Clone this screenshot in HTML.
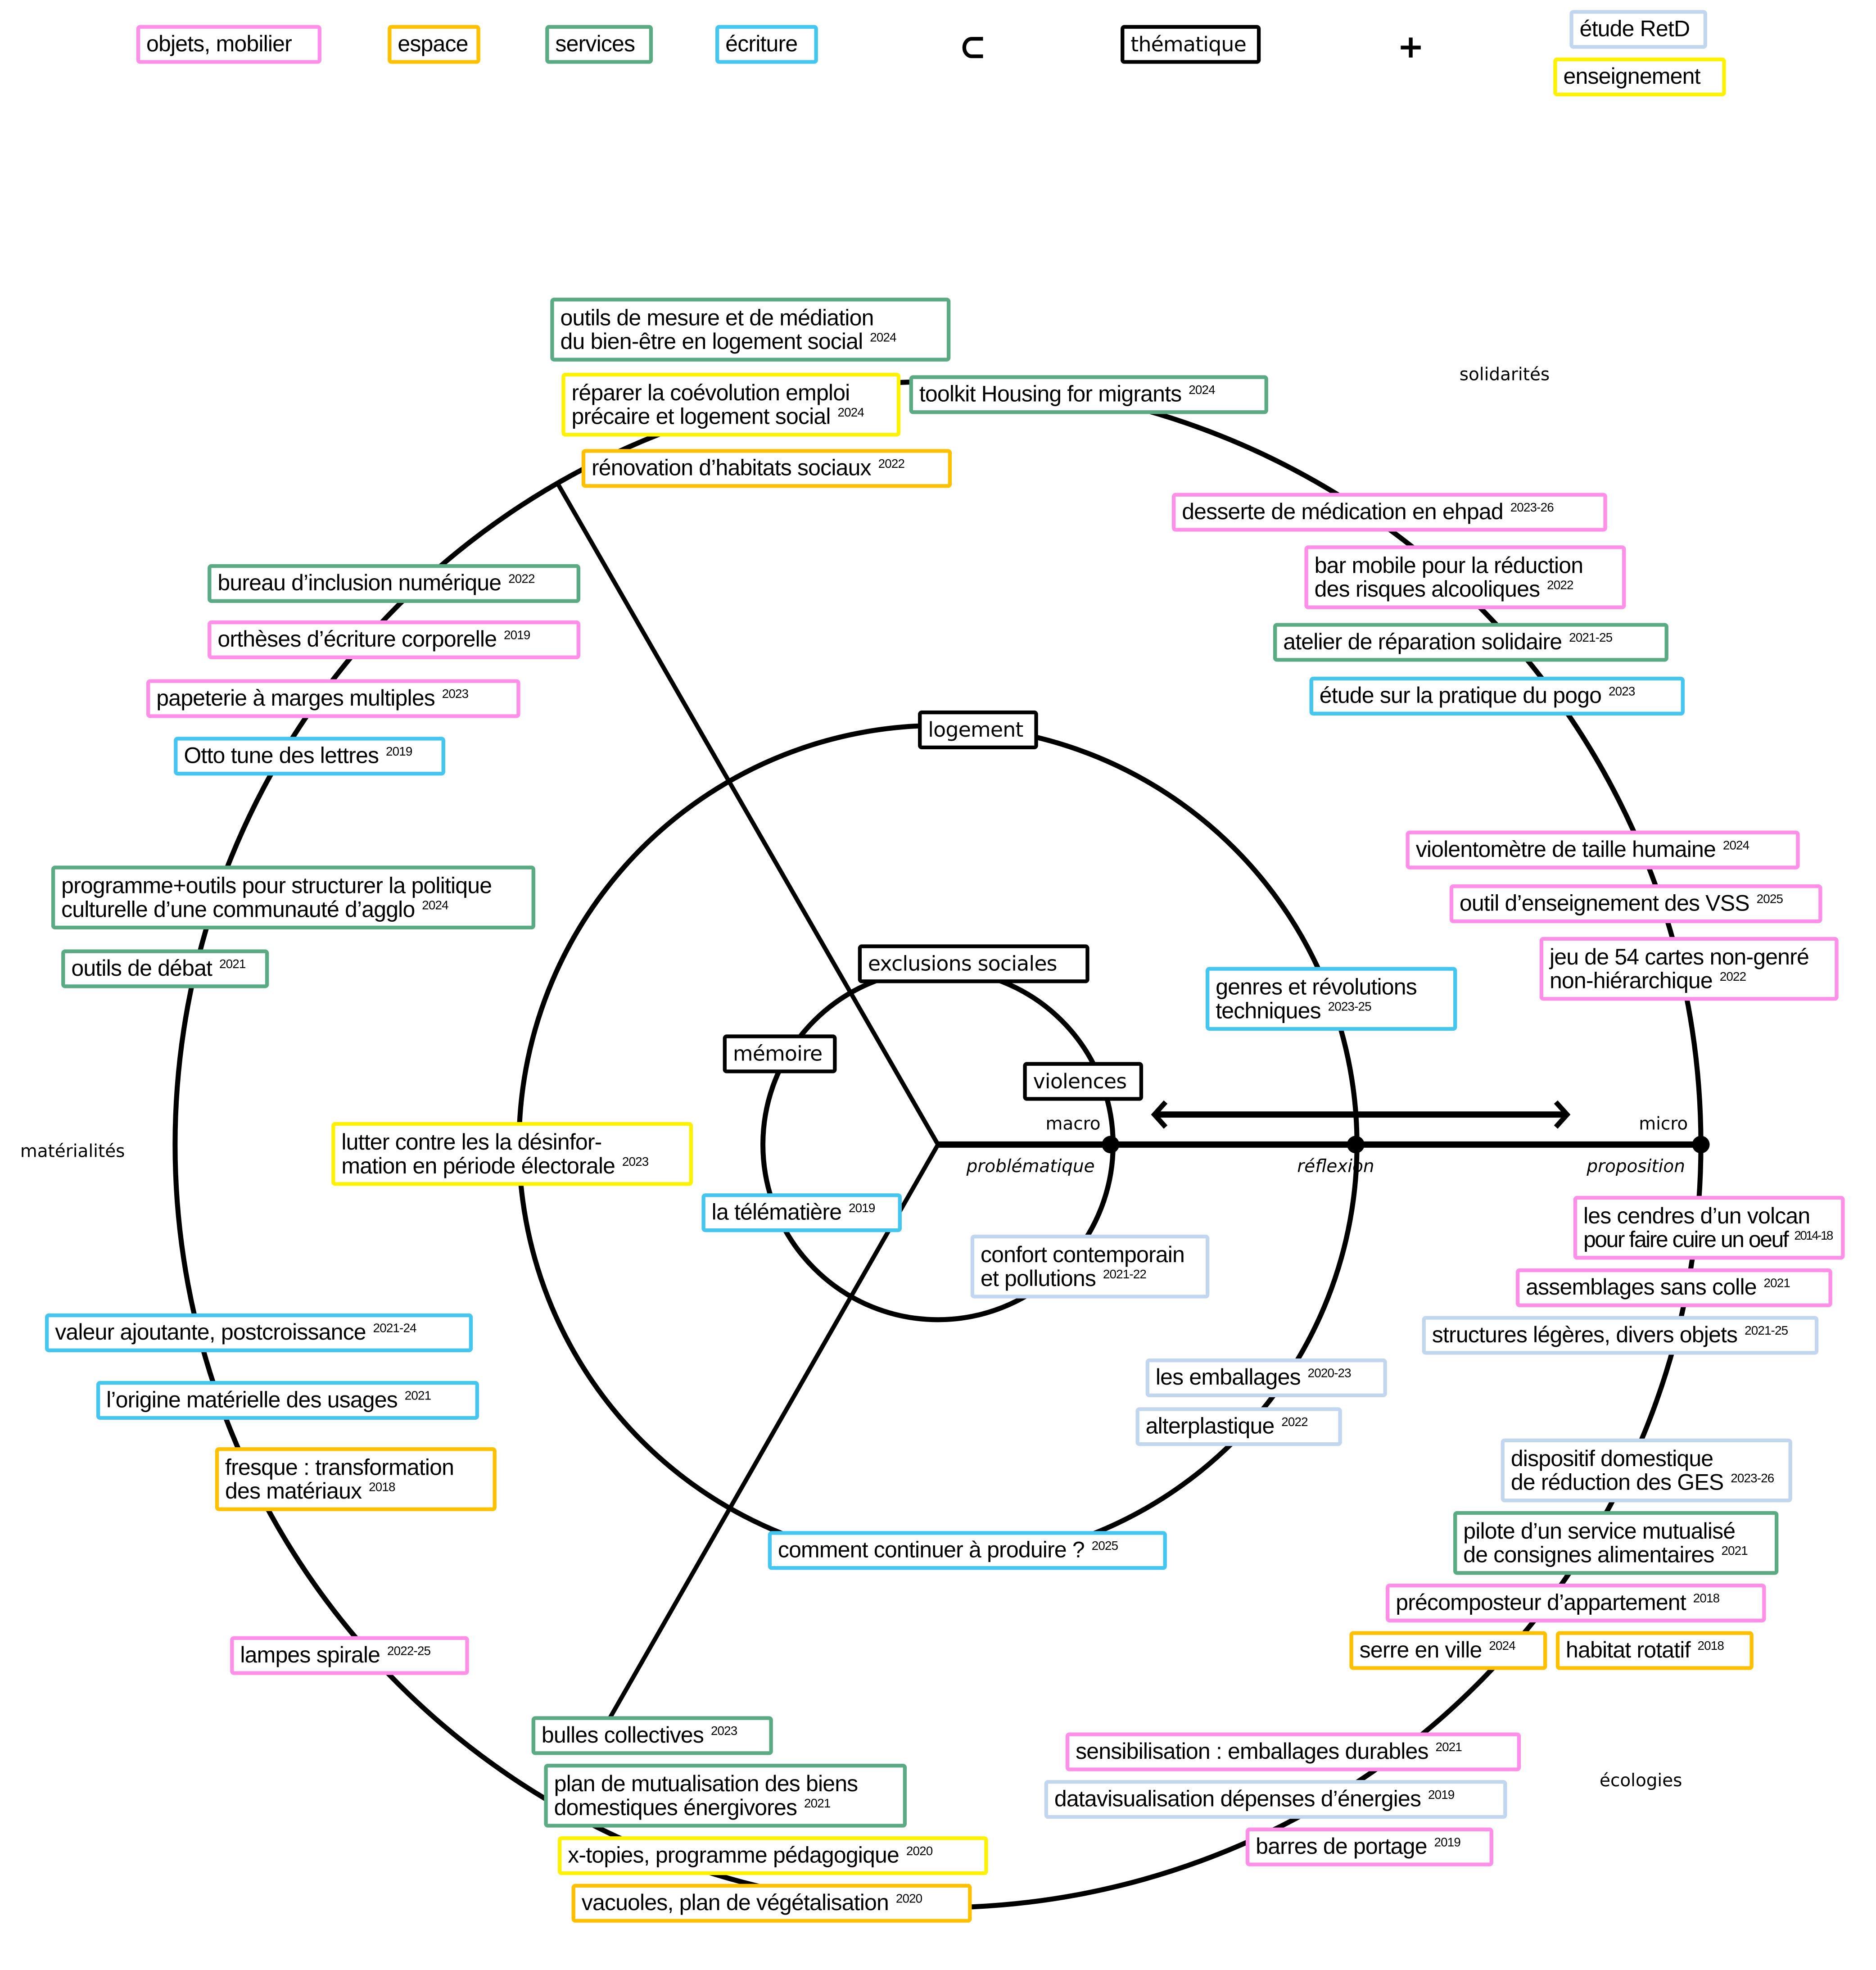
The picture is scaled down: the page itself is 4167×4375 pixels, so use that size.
<!DOCTYPE html>
<html><head><meta charset="utf-8"><style>
html,body{margin:0;padding:0;background:#fff}
#w{width:4167px;height:4375px;overflow:hidden;position:relative;background:#fff}
#s{position:absolute;left:0;top:0;width:1500px;height:1575px;transform:scale(2.778);transform-origin:0 0}
.b{position:absolute;box-sizing:border-box;border:3.2px solid;border-radius:3px;background:#fff;font-family:"Liberation Sans",sans-serif;font-size:18px;line-height:19px;padding:2px 5px;white-space:nowrap;color:#000;display:flex;flex-direction:column;justify-content:center;letter-spacing:-0.3px}
.b sup{font-size:10px;vertical-align:6px;line-height:0;margin-left:1px}
.p{border-color:#ff8fe9}.o{border-color:#ffc000}.g{border-color:#5aaa84}.c{border-color:#44c6f0}.l{border-color:#c3d6ef}.y{border-color:#fff200}.k{border-color:#000;font-family:"DejaVu Sans",sans-serif;font-size:16.5px}
.t{position:absolute;font-family:"DejaVu Sans",sans-serif;font-size:14px;color:#000;transform:translateX(-50%);white-space:nowrap}
.i{font-style:italic}
</style></head><body><div id="w"><div id="s">
<svg width="1500" height="1575" style="position:absolute;left:0;top:0" fill="none" stroke="#000">
<circle cx="750" cy="915" r="140" stroke-width="4"/>
<circle cx="750" cy="915" r="335" stroke-width="4"/>
<circle cx="750" cy="915" r="610" stroke-width="4"/>
<polyline points="445,385 750,915 485,1378" stroke-width="3.5"/>
<line x1="750" y1="915" x2="1360" y2="915" stroke-width="5"/>
<circle cx="888" cy="915" r="7" fill="#000" stroke="none"/>
<circle cx="1084" cy="915" r="7" fill="#000" stroke="none"/>
<circle cx="1360" cy="915" r="7" fill="#000" stroke="none"/>
<line x1="924" y1="891" x2="1252" y2="891" stroke-width="5"/>
<polyline points="932,881 923,891 932,901" stroke-width="4"/>
<polyline points="1244,881 1253,891 1244,901" stroke-width="4"/>
<path d="M786 31 h-9 a6 7 0 0 0 0 14 h9" stroke-width="3"/>
<path d="M1128 30 v16 M1120 38 h16" stroke-width="3"/>
</svg>

<div class="b p" style="left:109px;top:20px;width:148px;height:31px">objets, mobilier</div>
<div class="b o" style="left:310px;top:20px;width:74px;height:31px">espace</div>
<div class="b g" style="left:436px;top:20px;width:86px;height:31px">services</div>
<div class="b c" style="left:572px;top:20px;width:82px;height:31px">écriture</div>
<div class="b k" style="left:896px;top:20px;width:112px;height:31px">thématique</div>
<div class="b l" style="left:1255px;top:8px;width:110px;height:31px">étude RetD</div>
<div class="b y" style="left:1242px;top:46px;width:138px;height:31px">enseignement</div>

<div class="b g" style="left:440px;top:238px;width:320px;height:51px">outils de mesure et de médiation<span>du bien-être en logement social <sup>2024</sup></span></div>
<div class="b y" style="left:449px;top:298px;width:271px;height:51px">réparer la coévolution emploi<span>précaire et logement social <sup>2024</sup></span></div>
<div class="b g" style="left:727px;top:300px;width:287px;height:31px"><span>toolkit Housing for migrants <sup>2024</sup></span></div>
<div class="b o" style="left:465px;top:359px;width:296px;height:31px"><span>rénovation d’habitats sociaux <sup>2022</sup></span></div>
<div class="b g" style="left:166px;top:451px;width:298px;height:31px"><span>bureau d’inclusion numérique <sup>2022</sup></span></div>
<div class="b p" style="left:166px;top:496px;width:298px;height:31px"><span>orthèses d’écriture corporelle <sup>2019</sup></span></div>
<div class="b p" style="left:117px;top:543px;width:299px;height:31px"><span>papeterie à marges multiples <sup>2023</sup></span></div>
<div class="b c" style="left:139px;top:589px;width:217px;height:31px"><span>Otto tune des lettres <sup>2019</sup></span></div>
<div class="b g" style="left:41px;top:692px;width:387px;height:51px">programme+outils pour structurer la politique<span>culturelle d’une communauté d’agglo <sup>2024</sup></span></div>
<div class="b g" style="left:49px;top:759px;width:166px;height:31px"><span>outils de débat <sup>2021</sup></span></div>
<div class="b y" style="left:265px;top:897px;width:289px;height:51px">lutter contre les la désinfor-<span>mation en période électorale <sup>2023</sup></span></div>
<div class="b c" style="left:561px;top:954px;width:160px;height:31px"><span>la télématière <sup>2019</sup></span></div>
<div class="b c" style="left:36px;top:1050px;width:342px;height:31px"><span>valeur ajoutante, postcroissance <sup>2021-24</sup></span></div>
<div class="b c" style="left:77px;top:1104px;width:306px;height:31px"><span>l’origine matérielle des usages <sup>2021</sup></span></div>
<div class="b o" style="left:172px;top:1157px;width:225px;height:51px">fresque : transformation<span>des matériaux <sup>2018</sup></span></div>
<div class="b p" style="left:184px;top:1308px;width:191px;height:31px"><span>lampes spirale <sup>2022-25</sup></span></div>
<div class="b g" style="left:425px;top:1372px;width:193px;height:31px"><span>bulles collectives <sup>2023</sup></span></div>
<div class="b g" style="left:435px;top:1410px;width:290px;height:51px">plan de mutualisation des biens<span>domestiques énergivores <sup>2021</sup></span></div>
<div class="b y" style="left:446px;top:1468px;width:344px;height:31px"><span>x-topies, programme pédagogique <sup>2020</sup></span></div>
<div class="b o" style="left:457px;top:1506px;width:320px;height:31px"><span>vacuoles, plan de végétalisation <sup>2020</sup></span></div>
<div class="b c" style="left:614px;top:1224px;width:319px;height:31px"><span>comment continuer à produire ? <sup>2025</sup></span></div>
<div class="b l" style="left:776px;top:987px;width:191px;height:51px">confort contemporain<span>et pollutions <sup>2021-22</sup></span></div>
<div class="b l" style="left:916px;top:1086px;width:193px;height:31px"><span>les emballages <sup>2020-23</sup></span></div>
<div class="b l" style="left:908px;top:1125px;width:165px;height:31px"><span>alterplastique <sup>2022</sup></span></div>
<div class="b c" style="left:964px;top:773px;width:201px;height:51px">genres et révolutions<span>techniques <sup>2023-25</sup></span></div>
<div class="b p" style="left:937px;top:394px;width:348px;height:31px"><span>desserte de médication en ehpad <sup>2023-26</sup></span></div>
<div class="b p" style="left:1043px;top:436px;width:257px;height:51px">bar mobile pour la réduction<span>des risques alcooliques <sup>2022</sup></span></div>
<div class="b g" style="left:1018px;top:498px;width:316px;height:31px"><span>atelier de réparation solidaire <sup>2021-25</sup></span></div>
<div class="b c" style="left:1047px;top:541px;width:300px;height:31px"><span>étude sur la pratique du pogo <sup>2023</sup></span></div>
<div class="b p" style="left:1124px;top:664px;width:315px;height:31px"><span>violentomètre de taille humaine <sup>2024</sup></span></div>
<div class="b p" style="left:1159px;top:707px;width:298px;height:31px"><span>outil d’enseignement des VSS <sup>2025</sup></span></div>
<div class="b p" style="left:1231px;top:749px;width:239px;height:51px">jeu de 54 cartes non-genré<span>non-hiérarchique <sup>2022</sup></span></div>
<div class="b p" style="left:1258px;top:956px;width:217px;height:51px">les cendres d’un volcan<span style="letter-spacing:-0.9px">pour faire cuire un oeuf <sup>2014-18</sup></span></div>
<div class="b p" style="left:1212px;top:1014px;width:253px;height:31px"><span>assemblages sans colle <sup>2021</sup></span></div>
<div class="b l" style="left:1137px;top:1052px;width:317px;height:31px"><span>structures légères, divers objets <sup>2021-25</sup></span></div>
<div class="b l" style="left:1200px;top:1150px;width:233px;height:51px">dispositif domestique<span>de réduction des GES <sup>2023-26</sup></span></div>
<div class="b g" style="left:1162px;top:1208px;width:260px;height:51px">pilote d’un service mutualisé<span>de consignes alimentaires <sup>2021</sup></span></div>
<div class="b p" style="left:1108px;top:1266px;width:304px;height:31px"><span>précomposteur d’appartement <sup>2018</sup></span></div>
<div class="b o" style="left:1079px;top:1304px;width:158px;height:31px"><span>serre en ville <sup>2024</sup></span></div>
<div class="b o" style="left:1244px;top:1304px;width:158px;height:31px"><span>habitat rotatif <sup>2018</sup></span></div>
<div class="b p" style="left:852px;top:1385px;width:364px;height:31px"><span>sensibilisation : emballages durables <sup>2021</sup></span></div>
<div class="b l" style="left:835px;top:1423px;width:370px;height:31px"><span>datavisualisation dépenses d’énergies <sup>2019</sup></span></div>
<div class="b p" style="left:996px;top:1461px;width:198px;height:31px"><span>barres de portage <sup>2019</sup></span></div>

<div class="b k" style="left:734px;top:568px;width:96px;height:31px">logement</div>
<div class="b k" style="left:686px;top:755px;width:185px;height:31px">exclusions sociales</div>
<div class="b k" style="left:578px;top:827px;width:91px;height:31px">mémoire</div>
<div class="b k" style="left:818px;top:849px;width:96px;height:31px">violences</div>

<div class="t" style="left:1203px;top:292px">solidarités</div>
<div class="t" style="left:58px;top:913px">matérialités</div>
<div class="t" style="left:1312px;top:1416px">écologies</div>
<div class="t" style="left:858px;top:891px">macro</div>
<div class="t" style="left:1330px;top:891px">micro</div>
<div class="t i" style="left:824px;top:925px">problématique</div>
<div class="t i" style="left:1068px;top:925px">réflexion</div>
<div class="t i" style="left:1308px;top:925px">proposition</div>
</div></div></body></html>
